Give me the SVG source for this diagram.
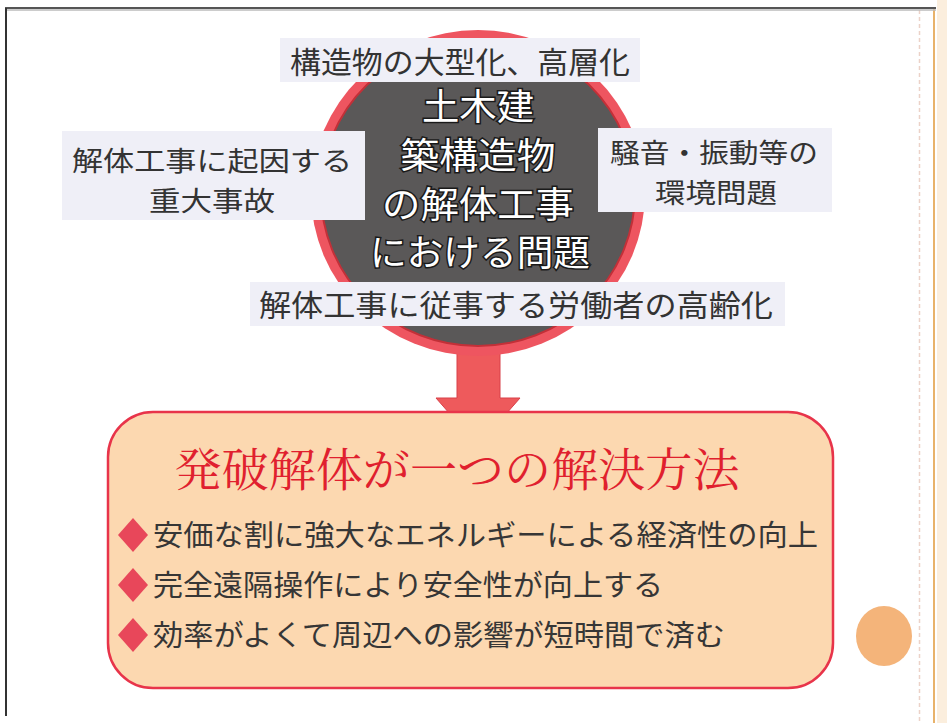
<svg xmlns="http://www.w3.org/2000/svg" width="947" height="723" viewBox="0 0 947 723">
<style>
.lbl{fill:#efeff7;}
.lt{font-family:"Noto Sans CJK JP","Noto Sans",sans-serif;font-size:30px;fill:#333;text-anchor:middle;}
.lt2{font-family:"Noto Sans CJK JP","Noto Sans",sans-serif;font-size:27px;fill:#333;text-anchor:middle;}
.ct{font-family:"Noto Sans CJK JP","Noto Sans",sans-serif;font-size:36px;fill:#fff;stroke:#1a1a1a;stroke-width:3;paint-order:stroke;text-anchor:middle;}
.bt{font-family:"Noto Sans CJK JP","Noto Sans",sans-serif;font-size:29px;fill:#363636;}
.ti{font-family:"Noto Serif CJK JP","Noto Sans CJK JP",serif;font-size:46px;fill:#e0202e;text-anchor:middle;}
.dia{fill:#e8475a;}
</style>
<rect width="947" height="723" fill="#fff"/>
<g id="frame">
<rect x="937" y="0" width="10" height="723" fill="#fbeedd"/>
<line x1="919.5" y1="10" x2="919.5" y2="723" stroke="#ecd2c8" stroke-width="1.5" stroke-dasharray="4 3"/>
<line x1="934" y1="8" x2="934" y2="723" stroke="#e8b26a" stroke-width="2"/>
<line x1="5" y1="8" x2="936" y2="8" stroke="#555" stroke-width="2"/>
<line x1="5" y1="10" x2="936" y2="10" stroke="#bbb" stroke-width="1.5"/>
<line x1="6" y1="8" x2="6" y2="716" stroke="#333" stroke-width="2"/>
</g>
<g id="connectors">
<polygon points="457,345 500,345 500,398 520,398 478,446 436,398 457,398" fill="#ee5a5c" stroke="#d84048" stroke-width="1"/>
</g>
<g id="problem">
<ellipse cx="478" cy="193" rx="167" ry="163" fill="#ee5560"/>
<ellipse cx="478" cy="193" rx="157" ry="153" fill="#5a5858" stroke="#c23038" stroke-width="2"/>
<text class="ct" x="478" y="120" textLength="112" lengthAdjust="spacingAndGlyphs">土木建</text>
<text class="ct" x="478" y="169" textLength="155" lengthAdjust="spacingAndGlyphs">築構造物</text>
<text class="ct" x="478" y="218" textLength="192" lengthAdjust="spacingAndGlyphs">の解体工事</text>
<text class="ct" x="480" y="266" textLength="220" lengthAdjust="spacingAndGlyphs">における問題</text>
</g>
<g id="label-top">
<rect class="lbl" x="280" y="38" width="360" height="44"/>
<text class="lt" x="460" y="73" textLength="340" lengthAdjust="spacingAndGlyphs">構造物の大型化、高層化</text>
</g>
<g id="label-left">
<rect class="lbl" x="62" y="131" width="303" height="89"/>
<text class="lt2" x="212" y="171" textLength="280" lengthAdjust="spacingAndGlyphs">解体工事に起因する</text>
<text class="lt2" x="212" y="211" textLength="126" lengthAdjust="spacingAndGlyphs">重大事故</text>
</g>
<g id="label-right">
<rect class="lbl" x="598" y="128" width="234" height="84"/>
<text class="lt2" x="714" y="163" textLength="208" lengthAdjust="spacingAndGlyphs">騒音・振動等の</text>
<text class="lt2" x="716" y="203" textLength="122" lengthAdjust="spacingAndGlyphs">環境問題</text>
</g>
<g id="label-bottom">
<rect class="lbl" x="250" y="282" width="535" height="44"/>
<text class="lt" x="516" y="316" textLength="514" lengthAdjust="spacingAndGlyphs">解体工事に従事する労働者の高齢化</text>
</g>
<g id="solution">
<rect x="108" y="412" width="725" height="276" rx="45" fill="#fcd8b0" stroke="#e8344a" stroke-width="2.5"/>
<text class="ti" x="457" y="486" textLength="565" lengthAdjust="spacingAndGlyphs">発破解体が一つの解決方法</text>
<polygon class="dia" points="133,518 148,535 133,552 118,535"/>
<text class="bt" x="153" y="546" textLength="665" lengthAdjust="spacingAndGlyphs">安価な割に強大なエネルギーによる経済性の向上</text>
<polygon class="dia" points="133,568 148,585 133,602 118,585"/>
<text class="bt" x="153" y="596" textLength="510" lengthAdjust="spacingAndGlyphs">完全遠隔操作により安全性が向上する</text>
<polygon class="dia" points="133,618 148,635 133,652 118,635"/>
<text class="bt" x="153" y="646" textLength="572" lengthAdjust="spacingAndGlyphs">効率がよくて周辺への影響が短時間で済む</text>
</g>
<g id="dot">
<ellipse cx="884" cy="636" rx="28" ry="30" fill="#f4b47a"/>
</g>
</svg>
